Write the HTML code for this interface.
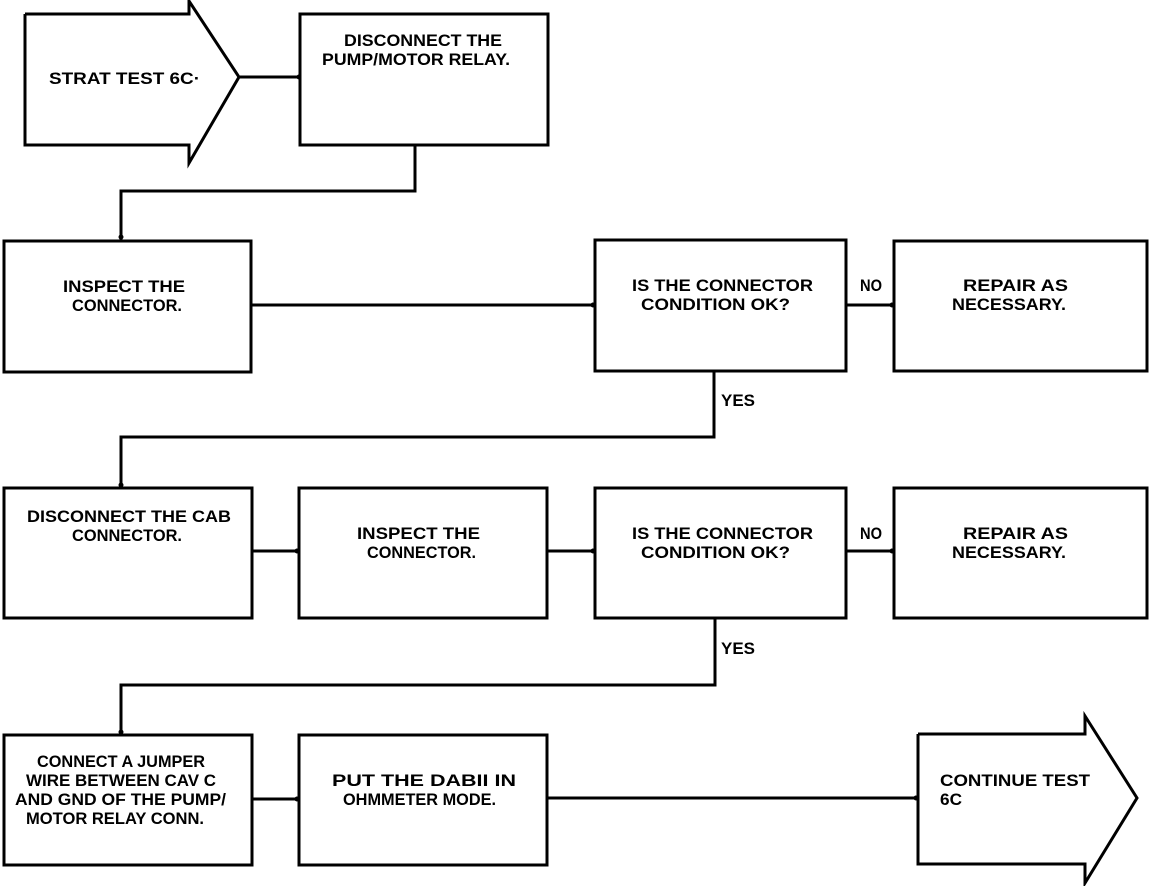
<!DOCTYPE html>
<html><head><meta charset="utf-8"><style>
html,body{margin:0;padding:0;background:#fff;}
svg{display:block}
text{font-family:"Liberation Sans",sans-serif;font-weight:bold;font-size:17px;fill:#000}
</style></head><body>
<svg width="1152" height="886" viewBox="0 0 1152 886" xmlns="http://www.w3.org/2000/svg">
<g fill="none" stroke="#000" stroke-width="3" stroke-linejoin="miter">
<polyline points="25,14 189,14 189,1 239,77 189,163 189,145 25,145 25,14"/>
<rect x="300" y="14" width="248" height="131"/>
<polyline points="240,77 300,77"/>
<polyline points="415,145 415,191 121,191 121,240"/>
<rect x="4" y="241" width="247" height="131"/>
<rect x="595" y="240" width="251" height="131"/>
<rect x="894" y="241" width="253" height="130"/>
<line x1="251" y1="305" x2="595" y2="305"/>
<line x1="846" y1="305" x2="894" y2="305"/>
<polyline points="714,371 714,437 121,437 121,488"/>
<rect x="4" y="488" width="248" height="130"/>
<rect x="299" y="488" width="248" height="130"/>
<rect x="595" y="488" width="251" height="130"/>
<rect x="894" y="488" width="253" height="130"/>
<line x1="252" y1="551" x2="299" y2="551"/>
<line x1="547" y1="551" x2="595" y2="551"/>
<line x1="846" y1="551" x2="894" y2="551"/>
<polyline points="715,618 715,685 121,685 121,735"/>
<rect x="4" y="735" width="248" height="130"/>
<rect x="299" y="735" width="248" height="130"/>
<line x1="252" y1="799" x2="299" y2="799"/>
<line x1="547" y1="798" x2="918" y2="798"/>
<polyline points="918,734 1085,734 1085,716 1137,798 1085,883 1085,864 918,864 918,734"/>
</g>
<g fill="#000">
<circle cx="299" cy="77" r="2.5"/><circle cx="121" cy="237" r="2.5"/><circle cx="593" cy="305" r="2.5"/>
<circle cx="892" cy="305" r="2.5"/><circle cx="121" cy="485" r="2.5"/><circle cx="297" cy="551" r="2.5"/>
<circle cx="593" cy="551" r="2.5"/><circle cx="892" cy="551" r="2.5"/><circle cx="121" cy="732" r="2.5"/>
<circle cx="297" cy="799" r="2.5"/><circle cx="916" cy="798" r="2.5"/>
</g>
<text x="49" y="84" textLength="151" lengthAdjust="spacingAndGlyphs">STRAT TEST 6C·</text>
<text x="344" y="46" textLength="158" lengthAdjust="spacingAndGlyphs">DISCONNECT THE</text>
<text x="322" y="65" textLength="188" lengthAdjust="spacingAndGlyphs">PUMP/MOTOR RELAY.</text>
<text x="63" y="292" textLength="122" lengthAdjust="spacingAndGlyphs">INSPECT THE</text>
<text x="72" y="311" textLength="110" lengthAdjust="spacingAndGlyphs">CONNECTOR.</text>
<text x="632" y="291" textLength="181" lengthAdjust="spacingAndGlyphs">IS THE CONNECTOR</text>
<text x="641" y="310" textLength="149" lengthAdjust="spacingAndGlyphs">CONDITION OK?</text>
<text x="860" y="291" textLength="22" lengthAdjust="spacingAndGlyphs">NO</text>
<text x="963" y="291" textLength="105" lengthAdjust="spacingAndGlyphs">REPAIR AS</text>
<text x="952" y="310" textLength="114" lengthAdjust="spacingAndGlyphs">NECESSARY.</text>
<text x="721" y="406" textLength="34" lengthAdjust="spacingAndGlyphs">YES</text>
<text x="27" y="522" textLength="204" lengthAdjust="spacingAndGlyphs">DISCONNECT THE CAB</text>
<text x="72" y="541" textLength="110" lengthAdjust="spacingAndGlyphs">CONNECTOR.</text>
<text x="357" y="539" textLength="123" lengthAdjust="spacingAndGlyphs">INSPECT THE</text>
<text x="367" y="558" textLength="109" lengthAdjust="spacingAndGlyphs">CONNECTOR.</text>
<text x="632" y="539" textLength="181" lengthAdjust="spacingAndGlyphs">IS THE CONNECTOR</text>
<text x="641" y="558" textLength="149" lengthAdjust="spacingAndGlyphs">CONDITION OK?</text>
<text x="860" y="539" textLength="22" lengthAdjust="spacingAndGlyphs">NO</text>
<text x="963" y="539" textLength="105" lengthAdjust="spacingAndGlyphs">REPAIR AS</text>
<text x="952" y="558" textLength="114" lengthAdjust="spacingAndGlyphs">NECESSARY.</text>
<text x="721" y="654" textLength="34" lengthAdjust="spacingAndGlyphs">YES</text>
<text x="37" y="767" textLength="168" lengthAdjust="spacingAndGlyphs">CONNECT A JUMPER</text>
<text x="26" y="786" textLength="190" lengthAdjust="spacingAndGlyphs">WIRE BETWEEN CAV C</text>
<text x="15" y="805" textLength="211" lengthAdjust="spacingAndGlyphs">AND GND OF THE PUMP/</text>
<text x="26" y="824" textLength="178" lengthAdjust="spacingAndGlyphs">MOTOR RELAY CONN.</text>
<text x="332" y="786" textLength="184" lengthAdjust="spacingAndGlyphs">PUT THE DABII IN</text>
<text x="343" y="805" textLength="153" lengthAdjust="spacingAndGlyphs">OHMMETER MODE.</text>
<text x="940" y="786" textLength="150" lengthAdjust="spacingAndGlyphs">CONTINUE TEST</text>
<text x="940" y="805" textLength="22" lengthAdjust="spacingAndGlyphs">6C</text>
</svg>
</body></html>
